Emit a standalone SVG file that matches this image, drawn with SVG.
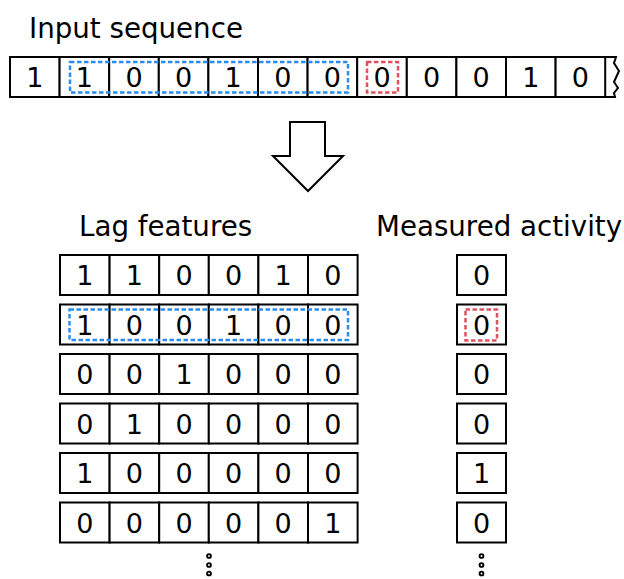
<svg xmlns="http://www.w3.org/2000/svg" width="624" height="579" viewBox="0 0 624 579">
<style>
.cell{fill:#fff;stroke:#000;stroke-width:2}
.d{font-family:"DejaVu Sans",sans-serif;font-size:27px;text-anchor:middle;fill:#000}
.lbl{font-family:"DejaVu Sans",sans-serif;font-size:27.7px;fill:#000}
.blue{fill:none;stroke:#2a8cf0;stroke-width:2.5;stroke-dasharray:4.5 2.5}
.red{fill:none;stroke:#e0505f;stroke-width:2.5;stroke-dasharray:4.5 2.5}
.dot{fill:#fff;stroke:#000;stroke-width:1.9}
</style>
<rect width="624" height="579" fill="#fff"/>
<text class="lbl" x="29" y="38">Input sequence</text>
<text class="lbl" x="79" y="236">Lag features</text>
<text class="lbl" x="376" y="236">Measured activity</text>

<g id="input-sequence">
  <path d="M605,57 L616,57 L614,63 L619,71 L614,82 L618,88 L614,93 L615,97 L605,97" fill="#fff" stroke="#000" stroke-width="2"/>
  <rect class="cell" x="10" y="57" width="49.6" height="40"/>
  <rect class="cell" x="59.6" y="57" width="49.6" height="40"/>
  <rect class="cell" x="109.2" y="57" width="49.6" height="40"/>
  <rect class="cell" x="158.8" y="57" width="49.6" height="40"/>
  <rect class="cell" x="258" y="57" width="49.6" height="40"/>
  <rect class="cell" x="307.6" y="57" width="49.6" height="40"/>
  <rect class="cell" x="357.2" y="57" width="49.6" height="40"/>
  <rect class="cell" x="406.8" y="57" width="49.6" height="40"/>
  <rect class="cell" x="456.4" y="57" width="49.6" height="40"/>
  <rect class="cell" x="506" y="57" width="49.6" height="40"/>
  <rect class="cell" x="555.6" y="57" width="49.6" height="40"/>
  <rect class="cell" x="208.4" y="57" width="49.6" height="40" stroke-width="2.4"/>
  <text class="d" x="34.8" y="87">1</text>
  <text class="d" x="84.4" y="87">1</text>
  <text class="d" x="134" y="87">0</text>
  <text class="d" x="183.6" y="87">0</text>
  <text class="d" x="233.2" y="87">1</text>
  <text class="d" x="282.8" y="87">0</text>
  <text class="d" x="332.4" y="87">0</text>
  <text class="d" x="382" y="87">0</text>
  <text class="d" x="431.6" y="87">0</text>
  <text class="d" x="481.2" y="87">0</text>
  <text class="d" x="530.8" y="87">1</text>
  <text class="d" x="580.4" y="87">0</text>
  <rect class="blue" x="70" y="62" width="278" height="30.5"/>
  <rect class="red" x="367" y="62" width="31" height="30.5"/>
</g>

<g id="arrow">
  <path d="M290,122 L325,122 L325,156 L343,156 L308,191 L273,156 L290,156 Z" fill="#fff" stroke="#000" stroke-width="2" stroke-linejoin="miter"/>
</g>

<g id="lag-features">
  <g id="lag-row-1">
    <rect class="cell" x="60" y="255" width="49.6" height="40"/><rect class="cell" x="109.6" y="255" width="49.6" height="40"/><rect class="cell" x="159.2" y="255" width="49.6" height="40"/><rect class="cell" x="208.8" y="255" width="49.6" height="40"/><rect class="cell" x="258.4" y="255" width="49.6" height="40"/><rect class="cell" x="308" y="255" width="49.6" height="40"/>
    <text class="d" x="84.8" y="285">1</text><text class="d" x="134.4" y="285">1</text><text class="d" x="184" y="285">0</text><text class="d" x="233.6" y="285">0</text><text class="d" x="283.2" y="285">1</text><text class="d" x="332.8" y="285">0</text>
  </g>
  <g id="lag-row-2">
    <rect class="cell" x="60" y="304.5" width="49.6" height="40"/><rect class="cell" x="109.6" y="304.5" width="49.6" height="40"/><rect class="cell" x="159.2" y="304.5" width="49.6" height="40"/><rect class="cell" x="208.8" y="304.5" width="49.6" height="40"/><rect class="cell" x="258.4" y="304.5" width="49.6" height="40"/><rect class="cell" x="308" y="304.5" width="49.6" height="40"/>
    <text class="d" x="84.8" y="334.5">1</text><text class="d" x="134.4" y="334.5">0</text><text class="d" x="184" y="334.5">0</text><text class="d" x="233.6" y="334.5">1</text><text class="d" x="283.2" y="334.5">0</text><text class="d" x="332.8" y="334.5">0</text>
    <rect class="blue" x="69.5" y="309.5" width="278.5" height="30.5"/>
  </g>
  <g id="lag-row-3">
    <rect class="cell" x="60" y="354" width="49.6" height="40"/><rect class="cell" x="109.6" y="354" width="49.6" height="40"/><rect class="cell" x="159.2" y="354" width="49.6" height="40"/><rect class="cell" x="208.8" y="354" width="49.6" height="40"/><rect class="cell" x="258.4" y="354" width="49.6" height="40"/><rect class="cell" x="308" y="354" width="49.6" height="40"/>
    <text class="d" x="84.8" y="384">0</text><text class="d" x="134.4" y="384">0</text><text class="d" x="184" y="384">1</text><text class="d" x="233.6" y="384">0</text><text class="d" x="283.2" y="384">0</text><text class="d" x="332.8" y="384">0</text>
  </g>
  <g id="lag-row-4">
    <rect class="cell" x="60" y="403.5" width="49.6" height="40"/><rect class="cell" x="109.6" y="403.5" width="49.6" height="40"/><rect class="cell" x="159.2" y="403.5" width="49.6" height="40"/><rect class="cell" x="208.8" y="403.5" width="49.6" height="40"/><rect class="cell" x="258.4" y="403.5" width="49.6" height="40"/><rect class="cell" x="308" y="403.5" width="49.6" height="40"/>
    <text class="d" x="84.8" y="433.5">0</text><text class="d" x="134.4" y="433.5">1</text><text class="d" x="184" y="433.5">0</text><text class="d" x="233.6" y="433.5">0</text><text class="d" x="283.2" y="433.5">0</text><text class="d" x="332.8" y="433.5">0</text>
  </g>
  <g id="lag-row-5">
    <rect class="cell" x="60" y="453" width="49.6" height="40"/><rect class="cell" x="109.6" y="453" width="49.6" height="40"/><rect class="cell" x="159.2" y="453" width="49.6" height="40"/><rect class="cell" x="208.8" y="453" width="49.6" height="40"/><rect class="cell" x="258.4" y="453" width="49.6" height="40"/><rect class="cell" x="308" y="453" width="49.6" height="40"/>
    <text class="d" x="84.8" y="483">1</text><text class="d" x="134.4" y="483">0</text><text class="d" x="184" y="483">0</text><text class="d" x="233.6" y="483">0</text><text class="d" x="283.2" y="483">0</text><text class="d" x="332.8" y="483">0</text>
  </g>
  <g id="lag-row-6">
    <rect class="cell" x="60" y="502.5" width="49.6" height="40"/><rect class="cell" x="109.6" y="502.5" width="49.6" height="40"/><rect class="cell" x="159.2" y="502.5" width="49.6" height="40"/><rect class="cell" x="208.8" y="502.5" width="49.6" height="40"/><rect class="cell" x="258.4" y="502.5" width="49.6" height="40"/><rect class="cell" x="308" y="502.5" width="49.6" height="40"/>
    <text class="d" x="84.8" y="532.5">0</text><text class="d" x="134.4" y="532.5">0</text><text class="d" x="184" y="532.5">0</text><text class="d" x="233.6" y="532.5">0</text><text class="d" x="283.2" y="532.5">0</text><text class="d" x="332.8" y="532.5">1</text>
  </g>
  <g id="lag-dots">
    <circle class="dot" cx="209" cy="556" r="1.9"/><circle class="dot" cx="209" cy="565" r="1.9"/><circle class="dot" cx="209" cy="573.5" r="1.9"/>
  </g>
</g>

<g id="measured-activity">
  <g id="act-1"><rect class="cell" x="457" y="255" width="49" height="40"/><text class="d" x="481.5" y="285">0</text></g>
  <g id="act-2"><rect class="cell" x="457" y="304.5" width="49" height="40"/><text class="d" x="481.5" y="334.5">0</text><rect class="red" x="465.5" y="309.5" width="31.5" height="31"/></g>
  <g id="act-3"><rect class="cell" x="457" y="354" width="49" height="40"/><text class="d" x="481.5" y="384">0</text></g>
  <g id="act-4"><rect class="cell" x="457" y="403.5" width="49" height="40"/><text class="d" x="481.5" y="433.5">0</text></g>
  <g id="act-5"><rect class="cell" x="457" y="453" width="49" height="40"/><text class="d" x="481.5" y="483">1</text></g>
  <g id="act-6"><rect class="cell" x="457" y="502.5" width="49" height="40"/><text class="d" x="481.5" y="532.5">0</text></g>
  <g id="act-dots">
    <circle class="dot" cx="481.5" cy="556" r="1.9"/><circle class="dot" cx="481.5" cy="565" r="1.9"/><circle class="dot" cx="481.5" cy="573.5" r="1.9"/>
  </g>
</g>
<g id="connectors"/>
</svg>
